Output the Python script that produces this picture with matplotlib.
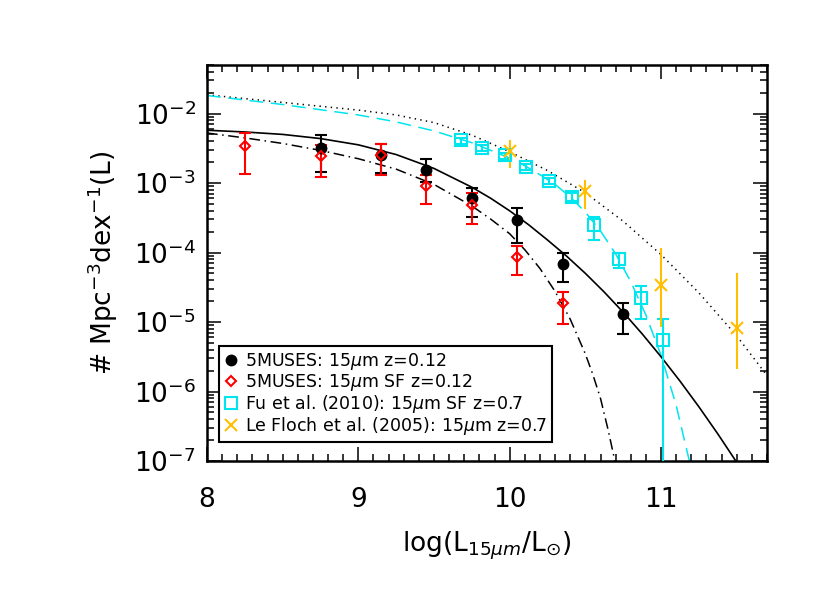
import matplotlib
matplotlib.use("Agg")
import matplotlib.pyplot as plt
import numpy as np
from matplotlib.ticker import LogLocator, MultipleLocator, NullFormatter

plt.rcParams["font.family"] = ["DejaVu Sans"]
plt.rcParams["mathtext.fontset"] = "dejavusans"

# 5MUSES: 15um LF, z=0.12 (all galaxies)
muses_x = [8.75, 9.15, 9.45, 9.75, 10.05, 10.35, 10.75]
muses_y = [3.2e-3, 2.57e-3, 1.56e-3, 6.1e-4, 2.9e-4, 6.9e-5, 1.3e-5]
muses_hi = [4.9e-3, 3.7e-3, 2.24e-3, 8.5e-4, 4.4e-4, 1.0e-4, 1.9e-5]
muses_lo = [1.45e-3, 1.4e-3, 1.05e-3, 3.3e-4, 1.35e-4, 3.8e-5, 6.8e-6]

# 5MUSES: star-forming only
sf_x = [8.25, 8.75, 9.15, 9.45, 9.75, 10.05, 10.35]
sf_y = [3.4e-3, 2.43e-3, 2.5e-3, 9.0e-4, 4.9e-4, 8.7e-5, 1.9e-5]
sf_hi = [5.3e-3, 3.57e-3, 3.6e-3, 1.3e-3, 7.2e-4, 1.23e-4, 2.7e-5]
sf_lo = [1.37e-3, 1.23e-3, 1.3e-3, 5.0e-4, 2.6e-4, 4.7e-5, 9.5e-6]

# Fu et al. (2010), z=0.7
fu_x = [9.68, 9.82, 9.97, 10.11, 10.26, 10.41, 10.56, 10.72, 10.87, 11.01]
fu_y = [4.1e-3, 3.2e-3, 2.5e-3, 1.7e-3, 1.07e-3, 6.3e-4, 2.5e-4, 8.1e-5, 2.2e-5, 5.6e-6]
fu_hi = [4.5e-3, 3.5e-3, 2.75e-3, 1.87e-3, 1.18e-3, 7.1e-4, 3.3e-4, 1.0e-4, 3.3e-5, 1.1e-5]
fu_lo = [3.7e-3, 2.9e-3, 2.25e-3, 1.53e-3, 0.96e-3, 5.6e-4, 1.5e-4, 6.0e-5, 1.1e-5, 1e-9]

# Le Floch et al. (2005), z=0.7
lf_x = [10.0, 10.5, 11.0, 11.5]
lf_y = [2.9e-3, 7.8e-4, 3.4e-5, 8.3e-6]
lf_hi = [4.2e-3, 1.12e-3, 1.17e-4, 5.0e-5]
lf_lo = [1.65e-3, 4.2e-4, 8.5e-6, 2.1e-6]

# fitted curves, log10(phi)
fit_x = [8.0, 8.25, 8.5, 8.75, 9.0, 9.25, 9.5, 9.75, 9.875, 10.0, 10.125, 10.25, 10.375,
         10.5, 10.625, 10.75, 10.875, 11.0, 11.125, 11.25, 11.375, 11.5, 11.625]
fit_logphi = [-2.24, -2.265, -2.30, -2.36, -2.45, -2.59, -2.79, -3.06, -3.22, -3.40, -3.60,
              -3.82, -4.05, -4.30, -4.57, -4.86, -5.17, -5.50, -5.85, -6.22, -6.61, -7.02,
              -7.45]

sffit_x = [8.0, 8.25, 8.5, 8.75, 9.0, 9.25, 9.5, 9.75, 9.875, 10.0, 10.1, 10.2, 10.3, 10.4,
           10.5, 10.55, 10.6, 10.65, 10.7, 10.75]
sffit_logphi = [-2.28, -2.35, -2.43, -2.53, -2.65, -2.80, -3.02, -3.33, -3.52, -3.73, -3.96,
                -4.23, -4.56, -4.96, -5.46, -5.76, -6.10, -6.55, -7.05, -7.6]

fufit_x = [8.0, 8.5, 9.0, 9.25, 9.5, 9.75, 10.0, 10.1, 10.2, 10.3, 10.4, 10.5, 10.6, 10.7,
           10.8, 10.9, 11.0, 11.1, 11.2]
fufit_logphi = [-1.74, -1.87, -2.02, -2.12, -2.25, -2.42, -2.64, -2.75, -2.88, -3.02, -3.20,
                -3.42, -3.69, -4.02, -4.42, -4.90, -5.48, -6.20, -7.12]

lffit_x = [8.0, 8.5, 9.0, 9.25, 9.5, 9.75, 10.0, 10.25, 10.5, 10.75, 11.0, 11.25, 11.5, 11.7]
lffit_logphi = [-1.73, -1.84, -1.95, -2.02, -2.13, -2.31, -2.55, -2.82, -3.14, -3.55, -4.03,
                -4.58, -5.20, -5.77]

CYAN = "#00e5ee"
GOLD = "#ffbf00"


def yerr(y, hi, lo):
    y, hi, lo = np.array(y), np.array(hi), np.array(lo)
    return [y - lo, hi - y]


fig = plt.figure(figsize=(8.3, 5.93), dpi=100)
ax = fig.add_axes([0.2494, 0.2226, 0.6747, 0.6678])

ax.plot(lffit_x, 10 ** np.array(lffit_logphi), color="black", lw=1.1,
        dashes=(0.9, 2.8), zorder=2)
ax.plot(fufit_x, 10 ** np.array(fufit_logphi), color=CYAN, lw=1.1,
        dashes=(9, 5), zorder=2)
ax.plot(sffit_x, 10 ** np.array(sffit_logphi), color="black", lw=1.1,
        dashes=(7, 3, 1, 3), zorder=2)
ax.plot(fit_x, 10 ** np.array(fit_logphi), color="black", lw=1.2, zorder=2)

# error bars
ax.errorbar(fu_x, fu_y, yerr=yerr(fu_y, fu_hi, fu_lo), fmt="none", ecolor=CYAN,
            elinewidth=1.5, capsize=4, capthick=1.5, zorder=3)
ax.errorbar(lf_x, lf_y, yerr=yerr(lf_y, lf_hi, lf_lo), fmt="none", ecolor=GOLD,
            elinewidth=1.5, capsize=0, zorder=3)
ax.errorbar(muses_x, muses_y, yerr=yerr(muses_y, muses_hi, muses_lo), fmt="none",
            ecolor="black", elinewidth=1.5, capsize=4, capthick=1.5, zorder=3)
ax.errorbar(sf_x, sf_y, yerr=yerr(sf_y, sf_hi, sf_lo), fmt="none", ecolor="red",
            elinewidth=1.5, capsize=4, capthick=1.5, zorder=4)

# markers (these carry the legend labels)
ax.plot(muses_x, muses_y, "o", color="black", ms=7.5, ls="none", zorder=5,
        label=r"5MUSES: 15$\mu$m z=0.12")
ax.plot(sf_x, sf_y, "D", mfc="none", mec="red", mew=1.5, ms=5.5, ls="none", zorder=6,
        label=r"5MUSES: 15$\mu$m SF z=0.12")
ax.plot(fu_x, fu_y, "s", mfc="none", mec=CYAN, mew=1.5, ms=8, ls="none", zorder=5,
        label=r"Fu et al. (2010): 15$\mu$m SF z=0.7")
ax.plot(lf_x, lf_y, "x", color=GOLD, mew=1.5, ms=9, ls="none", zorder=5,
        label=r"Le Floch et al. (2005): 15$\mu$m z=0.7")

ax.set_yscale("log")
ax.set_xlim(8, 11.7)
ax.set_ylim(1e-7, 5e-2)

ax.xaxis.set_major_locator(MultipleLocator(1))
ax.xaxis.set_minor_locator(MultipleLocator(0.1))
ax.yaxis.set_major_locator(LogLocator(base=10, numticks=20))
ax.yaxis.set_minor_locator(LogLocator(base=10, subs=np.arange(2, 10), numticks=20))
ax.yaxis.set_minor_formatter(NullFormatter())

ax.tick_params(which="both", direction="in", top=True, right=True, width=1.1,
               labelsize=19)
ax.tick_params(which="major", length=10)
ax.tick_params(which="minor", length=5)
ax.tick_params(axis="x", which="major", pad=19)
ax.tick_params(axis="y", which="major", pad=8)
for s in ax.spines.values():
    s.set_linewidth(1.8)

ax.set_xlabel(r"log(L$_{15\mu m}$/L$_{\odot}$)", fontsize=19, labelpad=12)
ax.set_ylabel(r"# Mpc$^{-3}$dex$^{-1}$(L)", fontsize=19, labelpad=10)

leg = ax.legend(loc="lower left", bbox_to_anchor=(0.021, 0.048), fontsize=12.5,
                frameon=True, fancybox=False, edgecolor="black", framealpha=1,
                handlelength=0.8, handletextpad=0.4, labelspacing=0.0,
                borderpad=0.3, borderaxespad=0)
leg.get_frame().set_linewidth(1.5)

fig.savefig("out.png", dpi=100)
